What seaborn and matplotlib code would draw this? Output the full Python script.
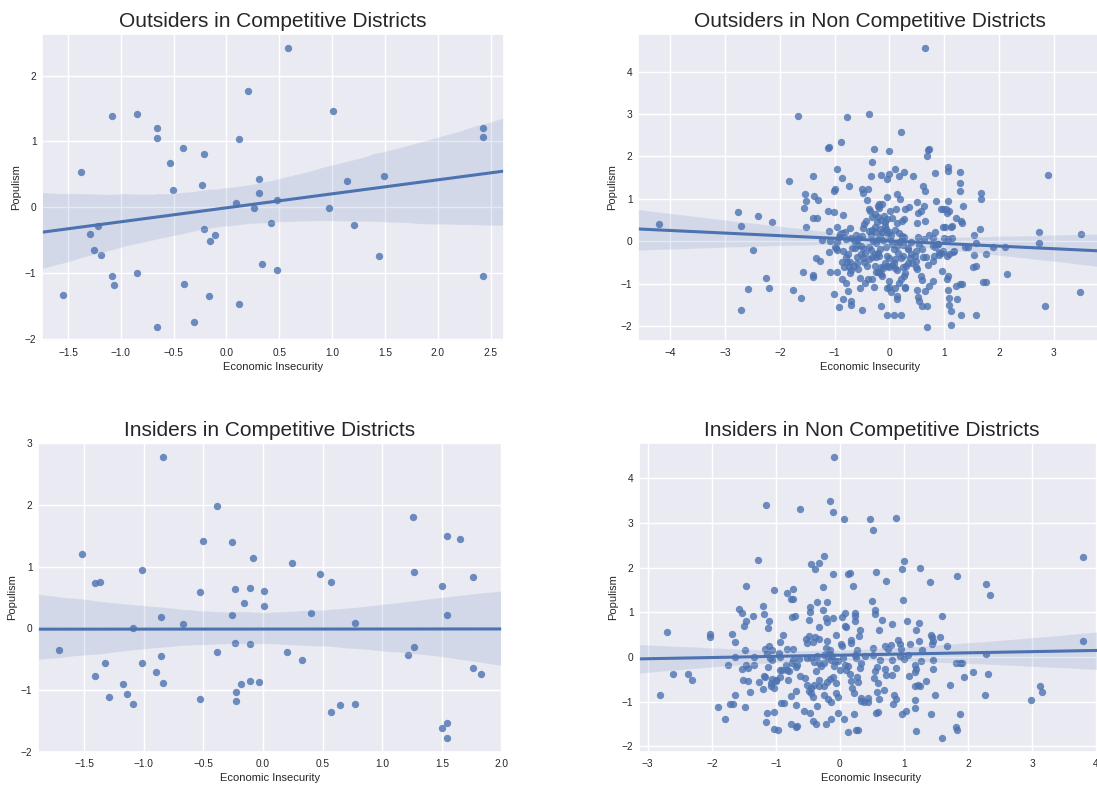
import numpy as np
import pandas as pd
import matplotlib
matplotlib.use("Agg")
import matplotlib.pyplot as plt
import seaborn as sns

# ---------------- data (Economic Insecurity, Populism) ----------------
titles = ["Outsiders in Competitive Districts",
          "Outsiders in Non Competitive Districts",
          "Insiders in Competitive Districts",
          "Insiders in Non Competitive Districts"]
x_label = "Economic Insecurity"
y_label = "Populism"

outsiders_comp = [
    (0.583, 2.42), (0.203, 1.77), (-1.087, 1.39), (-0.85, 1.42), (1.007, 1.46),
    (-0.653, 1.21), (-0.653, 1.05), (0.123, 1.035), (-0.41, 0.894), (-0.213, 0.803),
    (-0.53, 0.677), (-1.38, 0.535), (-0.233, 0.333), (-0.51, 0.258), (0.31, 0.424),
    (0.31, 0.222), (0.087, 0.066), (0.477, 0.116), (0.26, -0.015), (0.967, -0.015),
    (1.143, 0.394), (1.487, 0.475), (2.427, 1.207), (2.427, 1.066), (2.427, -1.04),
    (0.423, -0.242), (1.21, -0.278), (-0.217, -0.338), (-0.11, -0.429), (-0.157, -0.51),
    (-1.213, -0.293), (-1.293, -0.414), (-1.25, -0.652), (-1.183, -0.727), (1.44, -0.742),
    (0.337, -0.869), (0.48, -0.96), (-1.087, -1.04), (-0.85, -0.995), (-1.063, -1.18),
    (-0.40, -1.167), (-0.167, -1.354), (0.123, -1.48), (-1.547, -1.338), (-0.303, -1.742),
    (-0.653, -1.823),
]

insiders_comp = [
    (-0.835, 2.78), (-0.382, 1.99), (1.262, 1.805), (1.54, 1.503), (1.656, 1.454),
    (-1.517, 1.205), (-0.504, 1.422), (-0.261, 1.40), (-0.086, 1.141), (0.243, 1.054),
    (-1.01, 0.951), (0.477, 0.886), (1.271, 0.919), (1.76, 0.838), (-1.41, 0.735),
    (-1.368, 0.751), (0.575, 0.751), (-0.524, 0.584), (-0.237, 0.632), (-0.107, 0.649),
    (0.009, 0.60), (1.505, 0.686), (-0.157, 0.416), (0.009, 0.368), (-0.261, 0.216),
    (-0.856, 0.184), (-0.669, 0.065), (0.403, 0.249), (0.773, 0.086), (1.54, 0.216),
    (-1.09, 0.011), (-1.709, -0.351), (-0.237, -0.238), (-0.107, -0.254), (-0.382, -0.389),
    (0.198, -0.384), (0.329, -0.519), (1.271, -0.303), (1.217, -0.438), (-0.856, -0.454),
    (-1.327, -0.557), (-1.01, -0.557), (-1.41, -0.773), (-0.898, -0.708), (1.76, -0.638),
    (1.828, -0.741), (-1.176, -0.908), (-0.835, -0.892), (-0.184, -0.908), (-0.107, -0.859),
    (-0.036, -0.876), (-1.291, -1.108), (-1.143, -1.059), (-1.09, -1.227), (-0.524, -1.141),
    (-0.225, -1.027), (-0.225, -1.178), (0.575, -1.362), (0.643, -1.243), (0.773, -1.227),
    (1.505, -1.611), (1.54, -1.53), (1.54, -1.778),
]

outsiders_noncomp = [
    (0.655, 4.56), (-1.663, 2.965), (-0.771, 2.94), (-0.373, 3.01), (0.212, 2.58),
    (-0.886, 2.34), (-1.124, 2.20), (-1.111, 2.22), (-0.276, 2.165), (-0.013, 2.14),
    (0.706, 2.157), (0.726, 2.17), (0.687, 2.02), (-0.315, 1.875), (-1.83, 1.42),
    (-1.394, 1.537), (-0.963, 1.70), (-0.867, 1.50), (-0.334, 1.537), (-0.161, 1.569),
    (-0.039, 1.467), (0.0, 1.584), (0.109, 1.70), (0.18, 1.545), (0.27, 1.64),
    (0.424, 1.537), (0.841, 1.616), (1.066, 1.741), (1.066, 1.647), (1.297, 1.631),
    (1.297, 1.365), (1.297, 1.176), (2.89, 1.561), (0.61, 1.302), (0.655, 1.176),
    (-0.732, 1.302), (-0.995, 1.239), (-1.015, 1.176), (-0.495, 1.239), (-0.398, 1.239),
    (-0.482, 1.129), (-1.541, 1.114), (-1.368, 1.075), (-1.528, 0.949), (-1.304, 0.965),
    (-1.56, 0.784), (-1.522, 0.345), (-1.40, 0.541), (-1.323, 0.541), (-0.411, 0.98),
    (-0.039, 1.035), (0.148, 1.106), (0.186, 0.988), (0.854, 0.957), (1.066, 0.957),
    (1.028, 0.769), (0.989, 0.769), (0.95, 0.769), (1.092, 0.722), (1.342, 0.839),
    (1.67, 0.988), (1.683, 1.129), (0.507, 0.933), (0.636, 0.831), (0.584, 0.722),
    (0.52, 0.659), (0.501, 0.439), (0.655, 0.478), (0.36, 0.808), (0.295, 0.769),
    (0.116, 0.753), (0.006, 0.714), (0.045, 0.541), (0.141, 0.431), (0.225, 0.478),
    (0.27, 0.533), (-0.193, 0.878), (-0.141, 0.878), (-0.18, 0.784), (-0.212, 0.831),
    (-0.379, 0.769), (-0.353, 0.714), (-0.199, 0.573), (-0.231, 0.455), (-0.424, 0.47),
    (-0.456, 0.416), (-0.488, 0.314), (-1.13, 0.714), (-1.015, 0.682), (-0.848, 0.612),
    (-0.963, 0.345), (-1.111, 0.235), (-0.713, 0.322), (-0.867, 0.204), (-2.768, 0.69),
    (-2.71, 0.353), (-2.402, 0.588), (-2.139, 0.447), (-4.207, 0.40), (-2.492, -0.204),
    (1.22, 0.549), (1.31, 0.47), (1.329, 0.439), (1.137, 0.361), (0.989, 0.345),
    (0.829, 0.212), (1.657, 0.298), (1.541, 0.149), (1.586, -0.031), (1.432, -0.141),
    (1.554, -0.329), (1.579, -0.58), (1.535, -0.612), (1.773, -0.298), (1.901, -0.141),
    (2.107, -0.133), (2.742, 0.212), (2.742, -0.039), (3.50, 0.18), (2.145, -0.769),
    (1.76, -0.957), (3.481, -1.2), (2.852, -1.537), (1.586, -1.733), (1.304, -1.733),
    (1.124, -1.969), (0.687, -2.024), (1.124, -1.639), (1.098, -1.514), (1.085, -1.341),
    (1.233, -1.365), (1.066, -1.153), (1.297, -1.004), (1.336, -1.004), (1.06, -0.894),
    (1.079, -0.831), (0.79, -0.941), (0.732, -1.067), (0.649, -1.184), (0.681, -1.537),
    (0.507, -1.161), (0.52, -1.31), (0.539, -1.42), (0.59, -1.537), (0.212, -1.733),
    (0.077, -1.733), (-0.045, -1.733), (-0.161, -1.537), (-0.507, -1.624), (-0.706, -1.514),
    (-0.706, -1.412), (-0.848, -1.365), (-0.925, -1.553), (-0.751, -1.169), (-1.015, -1.247),
    (-1.606, -1.341), (-1.753, -1.153), (-2.197, -1.098), (-2.575, -1.122), (-2.248, -0.863),
    (-2.71, -1.616), (-1.586, -0.737), (-1.394, -0.8), (-1.387, -0.847), (-1.079, -0.714),
    (-0.963, -0.714), (-0.861, -0.894), (-0.79, -0.98), (-1.336, -0.4), (-1.265, -0.455),
    (-1.111, -0.259), (-1.233, 0.031), (-1.079, 0.008), (-0.995, -0.133), (-0.95, -0.204),
    (-0.854, -0.22), (-0.758, -0.298), (-0.713, -0.478), (-0.738, -0.604), (-0.713, -0.753),
    (-0.706, -0.69), (-0.565, -0.643), (-0.54, -0.878), (-0.533, -1.114), (-0.443, -0.996),
    (-0.392, -0.886), (-0.283, -1.075), (-0.315, -0.894), (-0.417, -0.573), (-0.462, -0.486),
    (-0.597, -0.361), (-0.629, -0.165), (-0.565, -0.086), (-0.636, -0.016), (-0.694, 0.078),
    (-0.617, 0.149), (-0.687, -0.165), (-0.379, -0.125), (-0.334, -0.212), (-0.27, -0.306),
    (-0.25, -0.361), (-0.315, -0.369), (-0.18, -0.353), (-0.212, -0.282), (-0.167, -0.188),
    (-0.064, -0.141), (-0.039, -0.337), (-0.013, -0.4), (-0.083, -0.518), (-0.039, -0.58),
    (-0.122, -0.635), (-0.013, -0.596), (0.045, -0.557), (0.109, -0.62), (0.141, -0.675),
    (-0.206, -0.729), (-0.161, -0.776), (-0.135, -0.831), (-0.186, -0.737), (-0.244, -0.714),
    (-0.006, -0.949), (-0.006, -1.082), (-0.051, -1.114), (0.026, -1.208), (0.109, -1.106),
    (0.148, -1.286), (0.148, -1.357), (0.283, -1.114), (0.289, -1.082), (0.173, -0.988),
    (0.206, -0.894), (0.263, -0.816), (0.295, -0.753), (0.244, -0.612), (0.302, -0.573),
    (0.347, -0.502), (0.417, -0.518), (0.482, -0.596), (0.514, -0.643), (0.482, -0.471),
    (0.482, -0.227), (0.347, -0.18), (0.398, -0.298), (0.372, -0.384), (0.462, -0.353),
    (0.623, -0.361), (0.662, -0.361), (0.706, -0.565), (0.572, -0.816), (0.591, -0.91),
    (0.816, -0.353), (0.796, -0.471), (0.906, -0.251), (0.944, -0.282), (0.976, -0.22),
    (0.912, -0.314), (1.047, -0.345), (1.098, -0.306), (1.156, -0.259), (1.175, -0.235),
    (0.957, -0.698), (1.079, 0.055), (0.893, -0.055), (0.79, -0.102), (0.629, 0.063),
    (0.527, 0.11), (0.398, -0.008), (0.27, 0.102), (0.238, 0.047), (0.173, -0.024),
    (0.141, -0.102), (0.09, -0.18), (0.051, -0.055), (0.006, 0.047), (0.032, 0.141),
    (-0.013, 0.212), (-0.064, 0.282), (-0.141, 0.227), (-0.173, 0.125), (-0.206, 0.047),
    (-0.244, -0.031), (-0.302, 0.008), (-0.334, 0.141), (-0.366, 0.235), (-0.308, 0.267),
    (-0.27, 0.329), (-0.167, 0.298), (-0.071, 0.361), (-0.051, 0.188), (-0.116, 0.031),
    (0.109, 0.267), (0.18, 0.188), (0.225, 0.133), (0.244, -0.086), (0.34, -0.165),
    (-0.495, 0.133), (-0.559, 0.094), (-0.591, 0.024), (-0.527, -0.118), (-0.482, -0.165),
    (-0.475, -0.384), (-0.52, -0.29), (-0.597, -0.518), (-0.642, -0.588), (-0.771, -0.478),
    (-0.835, -0.596), (-0.861, -0.486), (-0.796, -0.361), (-0.79, 0.047), (-0.893, 0.18),
    (-0.809, 0.212), (-0.925, 0.094), (-0.97, -0.149), (-0.963, -0.024), (-0.257, 0.212),
    (-0.083, 0.463), (-0.045, 0.518), (-0.103, 0.596), (-0.308, 0.573), (-0.263, 0.651),
    (-0.161, 0.502), (0.732, 0.141), (0.803, 0.086), (0.995, 0.086), (1.143, 0.071),
    (0.88, -0.071), (0.829, -0.133), (0.597, -0.188), (0.539, -0.086), (0.25, -0.353),
    (0.212, -0.384), (0.154, -0.267), (0.103, -0.408), (0.077, -0.518), (-0.161, -0.596),
    (-0.257, -0.573), (-0.373, -0.408), (-0.437, -0.282), (1.047, 0.659), (1.015, 0.337),
    (1.131, 0.345), (1.387, -0.125), (1.702, -0.957), (1.22, -1.051),
]

insiders_noncomp = [
    (-0.088, 4.47), (-1.153, 3.40), (-0.621, 3.31), (-0.148, 3.48), (-0.104, 3.24),
    (0.06, 3.09), (0.467, 3.08), (0.511, 2.83), (0.884, 3.105), (3.795, 2.234),
    (3.795, 0.365), (-1.285, 2.159), (-0.247, 2.256), (-0.456, 2.07), (-0.319, 2.092),
    (-0.395, 1.958), (-0.104, 1.862), (0.126, 1.847), (0.165, 1.876), (0.566, 1.906),
    (0.999, 2.137), (0.967, 1.958), (1.247, 1.981), (0.714, 1.698), (1.406, 1.675),
    (1.823, 1.817), (2.279, 1.631), (2.35, 1.377), (-1.466, 1.586), (-1.032, 1.489),
    (-0.258, 1.564), (0.203, 1.586), (-0.818, 1.43), (-0.736, 1.519), (-0.769, 1.296),
    (-0.736, 1.296), (-0.362, 1.221), (-0.203, 1.236), (-0.461, 1.117), (-0.269, 1.05),
    (-0.461, 1.005), (-1.203, 1.139), (-1.186, 0.96), (-1.571, 1.08), (-1.532, 0.983),
    (-1.351, 0.908), (-1.466, 0.797), (-1.494, 0.70), (-1.109, 0.797), (-1.115, 0.655),
    (-0.752, 0.886), (-0.697, 0.908), (-0.489, 0.827), (-0.33, 0.663), (-0.22, 0.871),
    (-0.203, 0.782), (-0.099, 0.871), (0.033, 0.894), (0.077, 0.983), (0.236, 0.975),
    (0.236, 0.908), (0.242, 0.812), (0.088, 0.70), (0.104, 0.663), (0.505, 1.258),
    (0.544, 1.042), (0.549, 0.961), (0.664, 0.827), (0.813, 0.737), (0.604, 0.596),
    (0.983, 1.266), (1.043, 0.804), (1.241, 0.76), (1.197, 0.596), (1.598, 0.916),
    (1.428, 0.499), (1.444, 0.447), (1.571, 0.447), (1.433, 0.29), (1.68, 0.238),
    (0.912, 0.387), (0.934, 0.283), (1.098, 0.29), (0.961, 0.179), (0.516, 0.201),
    (0.703, 0.253), (0.747, 0.179), (0.308, 0.596), (0.297, 0.477), (0.176, 0.387),
    (0.176, 0.313), (0.011, 0.29), (0.038, 0.238), (-0.066, 0.491), (-0.203, 0.35),
    (-0.324, 0.402), (-0.395, 0.447), (-0.483, 0.477), (-0.533, 0.41), (-0.505, 0.313),
    (-0.417, 0.335), (-0.89, 0.484), (-0.939, 0.335), (-1.109, 0.238), (-1.065, 0.149),
    (-1.164, 0.186), (-0.824, 0.186), (-0.736, 0.186), (-1.691, 0.521), (-1.631, 0.335),
    (-1.488, 0.156), (-1.642, -0.007), (-2.021, 0.521), (-2.021, 0.454), (-2.702, 0.566),
    (-2.603, -0.38), (-2.372, -0.38), (-2.312, -0.514), (-2.806, -0.841), (-1.746, -0.179),
    (-1.472, -0.171), (-1.433, -0.253), (-1.51, -0.514), (-1.433, -0.544), (-1.4, -0.774),
    (-1.642, -0.856), (-1.708, -1.042), (-1.675, -1.042), (-1.9, -1.11), (-1.79, -1.392),
    (-1.488, -1.11), (-1.203, -0.715), (-1.175, -0.447), (-1.082, -0.573), (-1.082, -0.648),
    (-1.032, -0.70), (-0.999, -0.529), (-1.142, -1.258), (-1.153, -1.459), (-1.032, -1.229),
    (-1.032, -1.608), (-0.972, -1.638), (-0.917, -1.028), (-0.868, -1.028), (-0.769, -1.489),
    (-0.692, -1.564), (-0.67, -1.534), (-0.763, -0.864), (-0.692, -0.767), (-0.681, -1.065),
    (-0.802, -0.506), (-0.791, -0.305), (-0.681, -0.231), (-0.741, -0.134), (-0.632, -0.037),
    (-0.516, -0.022), (-0.615, -0.432), (-0.544, -0.462), (-0.505, -0.618), (-0.489, -0.767),
    (-0.445, -0.70), (-0.456, -0.804), (-0.423, -0.886), (-0.555, -1.214), (-0.461, -1.251),
    (-0.417, -1.437), (-0.368, -1.497), (-0.22, -1.504), (-0.143, -1.392), (-0.351, -1.087),
    (-0.242, -0.841), (-0.187, -0.931), (-0.132, -1.013), (-0.242, -0.655), (-0.203, -0.558),
    (-0.159, -0.491), (-0.104, -0.439), (-0.066, -0.581), (-0.055, -0.804), (-0.022, -0.894),
    (-0.022, -1.251), (0.06, -1.385), (0.126, -1.668), (0.253, -1.638), (0.291, -1.623),
    (0.225, -1.273), (0.214, -0.804), (0.192, -0.692), (0.17, -0.529), (0.269, -0.454),
    (0.291, -0.566), (0.324, -0.916), (0.329, -0.975), (0.373, -1.013), (0.434, -1.013),
    (0.439, -0.916), (0.566, -1.251), (0.599, -1.229), (0.582, -0.789), (0.609, -0.931),
    (0.697, -0.73), (0.527, -0.469), (0.555, -0.32), (0.593, -0.581), (0.719, -0.395),
    (0.818, -0.395), (0.851, -0.841), (0.884, -0.931), (0.824, -1.042), (0.967, -1.273),
    (1.032, -1.214), (1.175, -1.139), (1.186, -1.66), (1.181, -0.953), (1.087, -0.432),
    (1.186, -0.268), (1.175, -0.343), (1.181, -0.655), (1.214, -0.625), (1.247, -0.64),
    (1.351, -0.544), (1.455, -0.268), (1.488, -0.841), (1.428, -1.266), (1.598, -1.809),
    (1.719, -0.633), (1.813, -1.564), (1.823, -1.638), (1.884, -1.273), (1.818, -0.127),
    (1.878, -0.127), (1.944, -0.447), (2.076, -0.328), (2.268, -0.841), (2.318, -0.38),
    (2.279, 0.067), (2.982, -0.953), (3.125, -0.655), (3.163, -0.789), (1.455, -0.06),
    (1.28, 0.156), (1.065, 0.052), (1.005, -0.052), (0.934, 0.015), (0.873, -0.253),
    (0.807, -0.074), (0.703, -0.268), (0.621, -0.06), (0.582, -0.223), (0.516, 0.052),
    (0.39, 0.03), (0.324, -0.134), (0.308, -0.246), (0.253, -0.03), (0.231, 0.037),
    (0.269, 0.164), (0.088, -0.171), (0.132, -0.208), (0.099, -0.283), (0.154, -0.372),
    (0.005, -0.283), (0.049, -0.022), (-0.033, -0.097), (-0.088, -0.208), (-0.121, 0.015),
    (-0.17, 0.089), (-0.187, -0.022), (-0.214, 0.201), (-0.154, 0.164), (-0.242, -0.134),
    (-0.297, -0.208), (-0.324, -0.134), (-0.351, 0.015), (-0.406, -0.112), (-0.45, -0.022),
    (-0.379, -0.32), (-0.33, -0.506), (-0.406, -0.618), (-0.319, -0.655), (-0.736, -0.06),
    (-0.67, -0.171), (-0.824, -0.283), (-0.901, -0.298), (-0.939, -0.298), (-0.846, -0.186),
    (-0.939, -0.007), (-1.06, -0.074), (-1.093, -0.03), (-1.142, 0.067), (-0.956, 0.089),
    (-1.34, -0.007), (-0.934, -0.447), (-0.999, -0.521), (-1.054, -0.491), (-1.115, -0.231),
    (-1.186, -0.432), (-1.258, -0.566), (-1.532, -0.261), (-1.34, -0.186), (-0.071, -0.089),
    (-0.143, -0.074), (-0.253, 0.052), (0.802, 0.276), (1.23, 0.35), (1.263, -0.097),
    (1.17, -0.186), (1.461, 0.35), (1.9, -0.134),
]

panels = [outsiders_comp, outsiders_noncomp, insiders_comp, insiders_noncomp]

# ---------------- style ----------------
sns.set_theme(style="darkgrid")
plt.rcParams["font.family"] = ["Liberation Sans", "DejaVu Sans"]
plt.rcParams["xtick.labelsize"] = 7.3
plt.rcParams["ytick.labelsize"] = 7.3
plt.rcParams["axes.labelsize"] = 8
plt.rcParams["axes.titlesize"] = 15
plt.rcParams["xtick.major.size"] = 0
plt.rcParams["ytick.major.size"] = 0

W, H = 1097, 789
fig = plt.figure(figsize=(W / 100, H / 100), dpi=100)

# axes boxes in pixels: (left, top, right, bottom)
boxes = [(42, 34, 504, 341), (638, 34, 1102, 341),
         (38, 443, 502, 752), (639, 443, 1104, 752)]

for pts, title, (l, t, r, b) in zip(panels, titles, boxes):
    ax = fig.add_axes([l / W, 1 - b / H, (r - l) / W, (b - t) / H])
    df = pd.DataFrame(pts, columns=[x_label, y_label])
    sns.regplot(data=df, x=x_label, y=y_label, ax=ax, truncate=False,
                color="#4C72B0", seed=3,
                scatter_kws={"s": 28, "linewidths": 0},
                line_kws={"linewidth": 2.2})
    ax.set_title(title, pad=5)
    ax.xaxis.labelpad = 3
    ax.yaxis.labelpad = 3
    ax.tick_params(axis="x", pad=5)
    ax.tick_params(axis="y", pad=4)

fig.savefig("out.png", dpi=100)
